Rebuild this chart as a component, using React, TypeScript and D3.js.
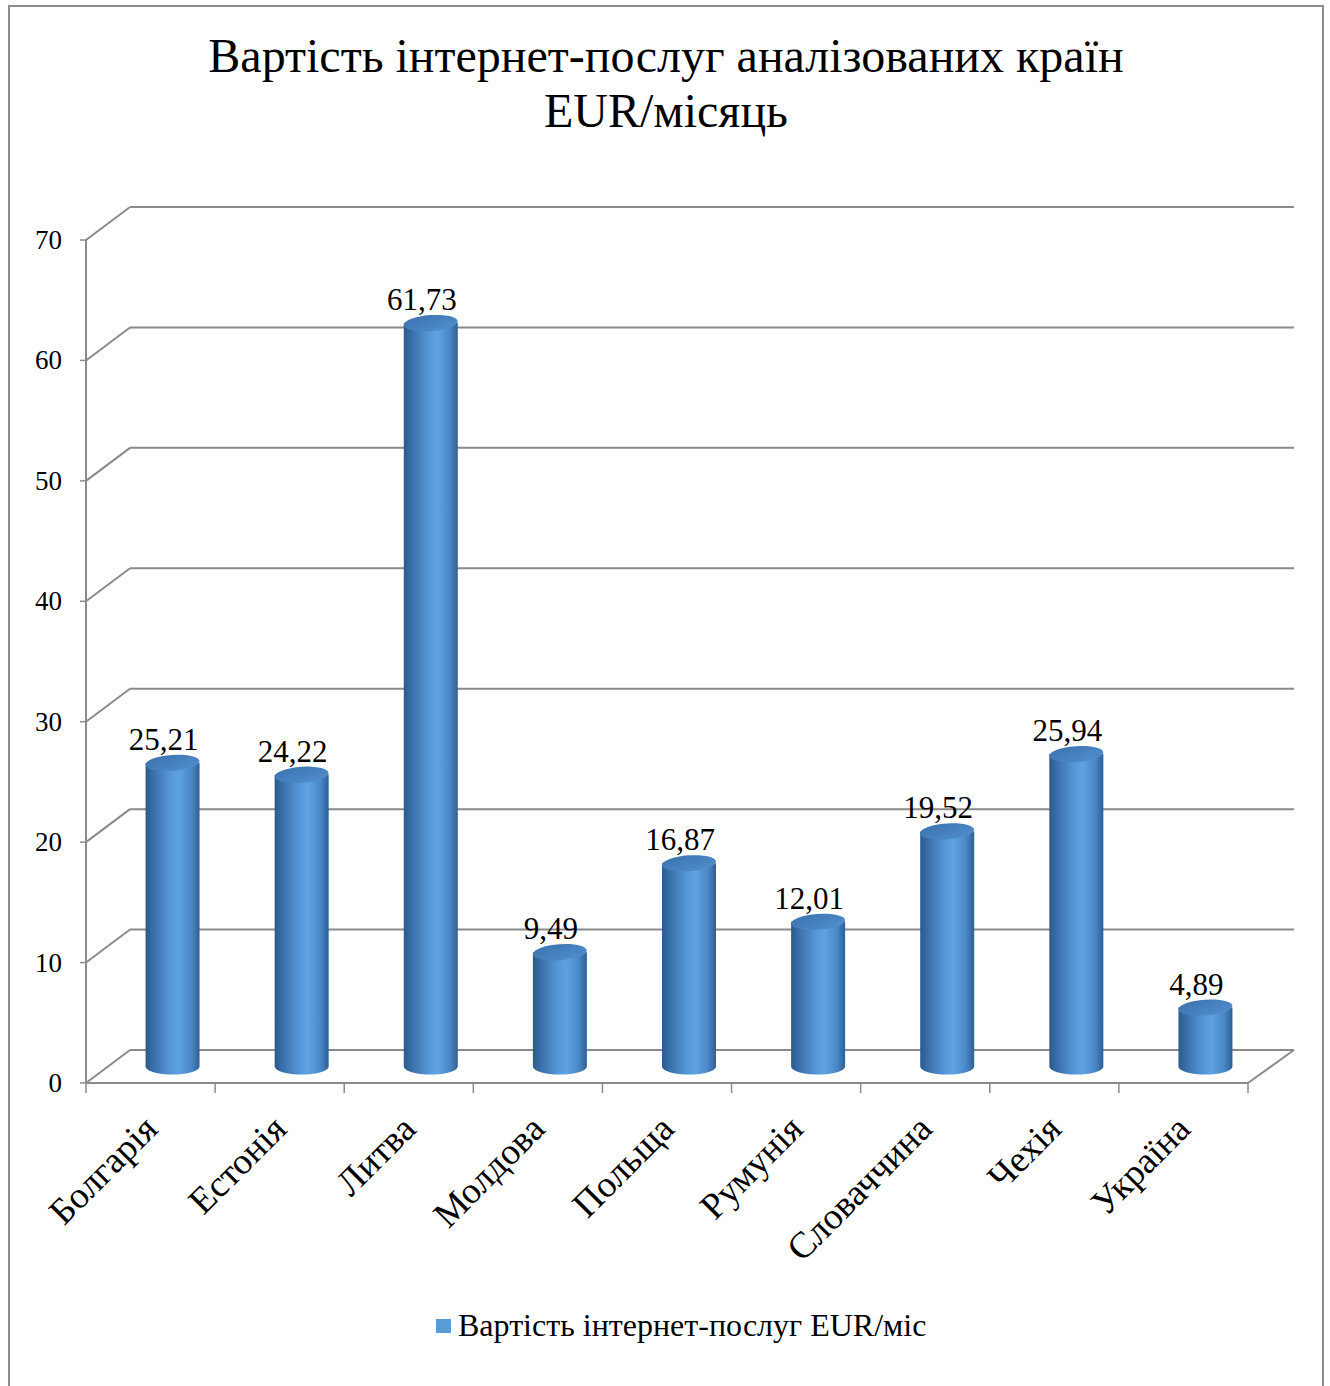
import React from "react";
import * as d3 from "d3";

const categories = ["Болгарія", "Естонія", "Литва", "Молдова", "Польща", "Румунія", "Словаччина", "Чехія", "Україна"];
const values = [25.21, 24.22, 61.73, 9.49, 16.87, 12.01, 19.52, 25.94, 4.89];
const valueLabels = ["25,21", "24,22", "61,73", "9,49", "16,87", "12,01", "19,52", "25,94", "4,89"];
const yTicks = [0, 10, 20, 30, 40, 50, 60, 70];
const titleLines = ["Вартість інтернет-послуг аналізованих країн", "EUR/місяць"];
const seriesName = "Вартість інтернет-послуг EUR/міс";

const W = 1330;
const H = 1386;
const FONT = "'Liberation Serif', 'Times New Roman', serif";

// front plane of the 3D plot box and depth offset to the back wall
const X0 = 86;
const X1 = 1248;
const Y0 = 1083;
const Y70 = 240;
const DX = 46;
const DY = -33;

export default function App() {
  const x = d3.scaleBand<string>().domain(categories).range([X0, X1]);
  const y = d3.scaleLinear().domain([0, 70]).range([Y0, Y70]);

  const gridColor = "#8a8a8a";
  const barW = 54;
  const rx = barW / 2;
  const ry = 8;

  const bars = categories.map((c, i) => {
    const cx = (x(c) as number) + x.bandwidth() / 2 + 22;
    const yBottom = y(0) + DY / 2;
    const yTop = y(values[i]) + DY / 2;
    return { c, cx, yBottom, yTop, v: values[i], label: valueLabels[i] };
  });

  const boundaries = categories.map((c) => x(c) as number).concat([X1]);

  return (
    <svg width={W} height={H} style={{ display: "block", position: "absolute", left: 0, top: 0 }} fontFamily={FONT}>
      <defs>
        <linearGradient id="cyl" x1="0" x2="1" y1="0" y2="0">
          <stop offset="0%" stopColor="#2b5a8c" />
          <stop offset="15%" stopColor="#3a70ab" />
          <stop offset="45%" stopColor="#5596d6" />
          <stop offset="62%" stopColor="#5fa3e3" />
          <stop offset="85%" stopColor="#4a87c6" />
          <stop offset="100%" stopColor="#2f5f92" />
        </linearGradient>
        <linearGradient id="cylTop" x1="0" x2="1" y1="0" y2="1">
          <stop offset="0%" stopColor="#3a72ad" />
          <stop offset="100%" stopColor="#5290cf" />
        </linearGradient>
      </defs>
      <rect x={0} y={0} width={W} height={H} fill="#ffffff" />
      <rect x={9} y={6} width={1314} height={1400} fill="none" stroke="#8c8c8c" strokeWidth={2} />

      {titleLines.map((t, i) => (
        <text key={t} x={666} y={72 + i * 55} textAnchor="middle" fontSize={48} fill="#000">
          {t}
        </text>
      ))}

      {/* back wall gridlines and left wall diagonals */}
      {yTicks.map((t) => (
        <g key={t}>
          <line x1={X0 + 44} x2={X1 + DX} y1={y(t) + DY} y2={y(t) + DY} stroke={gridColor} strokeWidth={2} />
          <line x1={X0} x2={X0 + 44} y1={y(t)} y2={y(t) + DY} stroke={gridColor} strokeWidth={2} />
          <line x1={X0 - 6} x2={X0} y1={y(t)} y2={y(t)} stroke={gridColor} strokeWidth={1.5} />
          <text x={62} y={y(t) + 9} textAnchor="end" fontSize={27} fill="#000">
            {t}
          </text>
        </g>
      ))}

      {/* floor */}
      <line x1={X1} x2={X1 + DX} y1={y(0)} y2={y(0) + DY} stroke={gridColor} strokeWidth={2} />
      <line x1={X0} x2={X1} y1={y(0)} y2={y(0)} stroke={gridColor} strokeWidth={2} />
      <line x1={X0} x2={X0} y1={y(70)} y2={y(0)} stroke={gridColor} strokeWidth={2} />
      {boundaries.map((bx, i) => (
        <line key={i} x1={bx} x2={bx} y1={y(0)} y2={y(0) + 10} stroke={gridColor} strokeWidth={1.5} />
      ))}

      {/* cylinders */}
      {bars.map((b) => (
        <g key={b.c}>
          <path
            d={`M${b.cx - rx},${b.yTop} L${b.cx - rx},${b.yBottom} A${rx},${ry} 0 0 0 ${b.cx + rx},${b.yBottom} L${b.cx + rx},${b.yTop} Z`}
            fill="url(#cyl)"
          />
          <ellipse cx={b.cx} cy={b.yTop} rx={rx} ry={ry} fill="url(#cylTop)" transform={`rotate(-4 ${b.cx} ${b.yTop})`} />
          <text x={b.cx - 9} y={b.yTop - 13} textAnchor="middle" fontSize={31} fill="#000">
            {b.label}
          </text>
        </g>
      ))}

      {/* category labels */}
      {categories.map((c) => {
        const lx = (x(c) as number) + x.bandwidth() / 2 + 9;
        const ly = y(0) + 48;
        return (
          <text key={c} x={lx} y={ly} textAnchor="end" fontSize={37} fill="#000" transform={`rotate(-45 ${lx} ${ly})`}>
            {c}
          </text>
        );
      })}

      {/* legend */}
      <rect x={436} y={1319} width={15} height={14} fill="#5b9bd5" />
      <text x={458} y={1336} fontSize={32} fill="#000">
        {seriesName}
      </text>
    </svg>
  );
}
